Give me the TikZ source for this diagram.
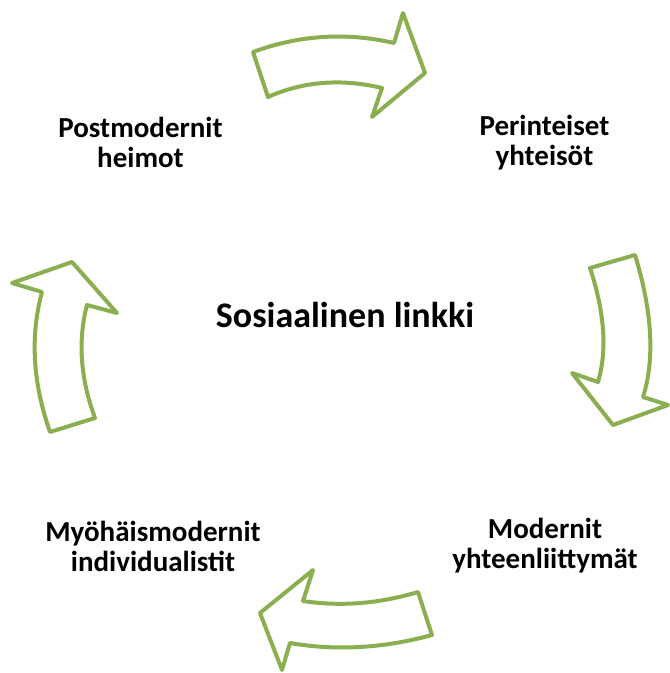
\documentclass[tikz,border=0pt]{standalone}
\usepackage{fontspec}
\setmainfont{Carlito}
\definecolor{arrowgreen}{RGB}{139,175,80}
\tikzset{
  blockarrow/.style={draw=arrowgreen, fill=white, line width=4bp, line join=round},
  lbl/.style={font=\fontsize{29bp}{30bp}\selectfont\bfseries, align=center, inner sep=0pt, anchor=base},
  centerlbl/.style={font=\fontsize{36bp}{40bp}\selectfont\bfseries, inner sep=0pt, anchor=base}
}
\begin{document}
\begin{tikzpicture}[x=1bp,y=-1bp]
\useasboundingbox (0,0) rectangle (670,673);
% top arrow (to the right)
\draw[blockarrow] (253,52) .. controls (299.3,35) and (346.3,32) .. (394,43) -- (403,13) -- (425,73) -- (372,117) -- (382,88)
   .. controls (341.3,78.3) and (303.3,81.3) .. (268,97) -- cycle;
% right arrow (down)
\draw[blockarrow] (590,268) -- (635,255) .. controls (652.3,311.7) and (655,359) .. (643,397) -- (668,405) -- (613,425) -- (572,373) -- (598,382)
   .. controls (607.3,350.7) and (604.7,312.7) .. cycle;
% bottom arrow (to the left)
\draw[blockarrow] (418,592) .. controls (379,603.7) and (340.7,606.7) .. (303,601) -- (313,570) -- (260,613) -- (282,670) -- (290,643)
   .. controls (336,651) and (383.3,648.3) .. (432,635) -- cycle;
% left arrow (up)
\draw[blockarrow] (50,432) -- (95,418) .. controls (80.3,378.3) and (77.7,340.7) .. (87,305) -- (117,313) -- (72,262) -- (12,283) -- (42,292)
   .. controls (30,336) and (32.7,382.7) .. cycle;
% labels
\node[lbl] (post) at (140.5,167) {Postmodernit\\heimot};
\node[lbl] (peri) at (544.5,165) {Perinteiset\\yhteisöt};
\node[lbl] (mod) at (545,568) {Modernit\\yhteenliittymät};
\node[lbl] (myo) at (153,571) {Myöhäismodernit\\individualistit};
\node[centerlbl] (center) at (345,327) {Sosiaalinen linkki};
\end{tikzpicture}
\end{document}
